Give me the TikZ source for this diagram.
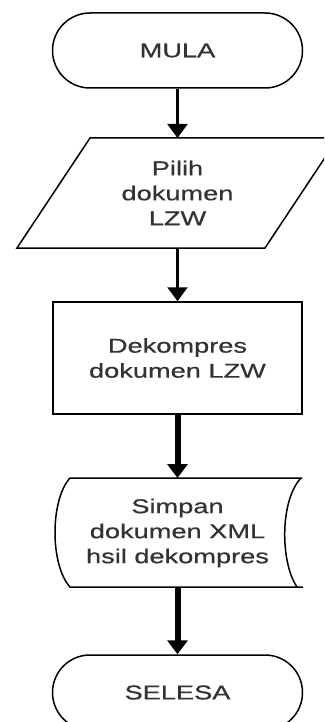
\documentclass[tikz,border=0pt]{standalone}
\usepackage{fontspec}
\newfontfamily\wfont[FakeStretch=1.36,FakeBold=0.6]{Liberation Sans}
\usetikzlibrary{arrows.meta}
\begin{document}
\begin{tikzpicture}[x=1pt,y=1pt,
  shapeline/.style={draw=black,line width=1.5pt},
  lbl/.style={font=\wfont\fontsize{20}{25}\selectfont,align=center,inner sep=0pt,text=black!80},
  term/.style={shapeline,lbl,minimum width=250pt,minimum height=75pt,rounded corners=37.5pt},
  procbox/.style={shapeline,lbl,minimum width=249pt,minimum height=112pt},
  thinarrow/.style={line width=2.2pt,-{Triangle[width=20pt,length=14pt]}},
  thickarrow/.style={line width=6pt,-{Triangle[width=20pt,length=14pt]}}]
\useasboundingbox (0,0) rectangle (324,-722);
\clip (0,0) rectangle (324,-722);
% MULA
\node[term] (mula) at (177.5,-50.5) {MULA};
% Parallelogram input
\draw[shapeline] (17,-248) -- (90,-138) -- (338,-138) -- (265,-248) -- cycle;
\node[lbl] (pilih) at (177.5,-193) {Pilih\\dokumen\\LZW};
\coordinate (pilihN) at (177.5,-138);
\coordinate (pilihS) at (177.5,-248);
% Process
\node[procbox] (dek) at (177.5,-358) {Dekompres\\dokumen LZW};
% Stored data shape
\draw[shapeline] (302,-478) -- (70,-478)
  .. controls (50,-500) and (50,-565) .. (70,-587) -- (303,-587);
\draw[shapeline] (301,-478) .. controls (280,-500) and (280,-562) .. (297,-587);
\node[lbl] (simpan) at (177.5,-533) {Simpan\\dokumen XML\\hsil dekompres};
\coordinate (simpanN) at (177.5,-478);
\coordinate (simpanS) at (177.5,-587);
% SELESA
\node[term] (selesa) at (177.5,-692.5) {SELESA};
% connectors
\draw[thinarrow] (mula.south) -- (pilihN);
\draw[thinarrow] (pilihS) -- (dek.north);
\draw[thickarrow] (dek.south) -- (simpanN);
\draw[thickarrow] (simpanS) -- (selesa.north);
\end{tikzpicture}
\end{document}
